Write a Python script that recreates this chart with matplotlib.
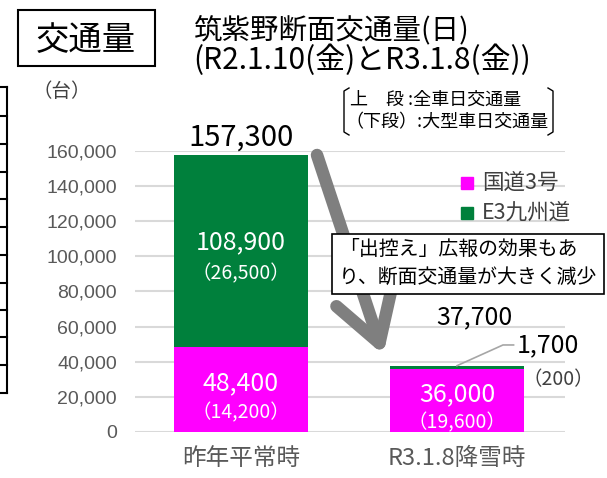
import matplotlib.pyplot as plt
from matplotlib.patches import Rectangle

plt.rcParams['font.family'] = ['Noto Sans CJK JP', 'DejaVu Sans']

categories = ["昨年平常時", "R3.1.8降雪時"]
route3 = [48400, 36000]
route3_large = [14200, 19600]
e3 = [108900, 1700]
e3_large = [26500, 200]
totals = [157300, 37700]
yticks = [0, 20000, 40000, 60000, 80000, 100000, 120000, 140000, 160000]

W, H = 607, 478
fig = plt.figure(figsize=(W / 100, H / 100), dpi=100)


def fx(px):
    return px / W


def fy(py):
    return 1 - py / H


ax = fig.add_axes([fx(135), fy(432), fx(565) - fx(135), fy(150.7) - fy(432)])
x = [0, 1]
magenta = "#FF00FF"
green = "#00803C"
ax.bar(x, route3, width=0.62, color=magenta, zorder=3)
ax.bar(x, e3, width=0.62, bottom=route3, color=green, zorder=3)
ax.set_xlim(-0.49, 1.5)
ax.set_ylim(0, 160000)
ax.set_yticks(yticks)
ax.set_yticklabels([f"{v:,}" for v in yticks], fontsize=14, color="#595959",
                   family=["Liberation Sans"])
ax.set_xticks(x)
ax.set_xticklabels(categories, fontsize=17, color="#595959")
ax.tick_params(length=0)
ax.tick_params(axis="y", pad=13)
ax.tick_params(axis="x", pad=11)
ax.grid(axis="y", color="#D9D9D9", linewidth=1.5, zorder=0)
for s in ax.spines.values():
    s.set_visible(False)

# segment labels
for i in range(2):
    ax.text(x[i], route3[i] / 2 + 3500, f"{route3[i]:,}", ha="center", va="center",
            color="white", fontsize=18, zorder=4)
    ax.text(x[i], route3[i] / 2 - 13000, f"（{route3_large[i]:,}）", ha="center",
            va="center", color="white", fontsize=14, zorder=4)
ax.text(x[0], route3[0] + e3[0] / 2 + 5000, f"{e3[0]:,}", ha="center", va="center",
        color="white", fontsize=18, zorder=4)
ax.text(x[0], route3[0] + e3[0] / 2 - 13000, f"（{e3_large[0]:,}）", ha="center",
        va="center", color="white", fontsize=14, zorder=4)
ax.text(x[0], totals[0] + 1800, f"{totals[0]:,}", ha="center", va="bottom",
        fontsize=21, color="black")
ax.text(1.08, totals[1] + 20000, f"{totals[1]:,}", ha="center", va="bottom",
        fontsize=18, color="black")
# small green segment label with leader
ax.text(1.42, 49500, f"{e3[1]:,}", ha="center", va="center", fontsize=18,
        clip_on=False)
ax.plot([x[1], 1.213, 1.262], [totals[1], 49500, 49500], color="#A6A6A6",
        lw=1.2, clip_on=False, zorder=4)
ax.text(1.47, 29500, f"（{e3_large[1]:,}）", ha="center", va="center",
        fontsize=14, color="#404040", clip_on=False)

# legend
fig.patches.append(Rectangle((fx(461), fy(189)), fx(12), fy(177) - fy(189),
                             transform=fig.transFigure, color=magenta))
fig.patches.append(Rectangle((fx(461), fy(219)), fx(12), fy(207) - fy(219),
                             transform=fig.transFigure, color=green))
fig.text(fx(482), fy(183), "国道3号", fontsize=15.5, va="center", color="#404040")
fig.text(fx(482), fy(213), "E3九州道", fontsize=15.5, va="center", color="#404040")

# overlay in pixel coordinates
ov = fig.add_axes([0, 0, 1, 1], facecolor="none")
ov.set_axis_off()
ov.set_xlim(0, W)
ov.set_ylim(H, 0)
ov.annotate("", xy=(385, 360), xytext=(317, 155),
            arrowprops=dict(arrowstyle="->,head_length=1.75,head_width=1.05",
                            mutation_scale=20, color="#7F7F7F", lw=9,
                            capstyle="round", joinstyle="round",
                            shrinkA=0, shrinkB=4))

# title box
ov.add_patch(Rectangle((18, 10), 137, 56, fill=False, edgecolor="black", lw=1.5))
ov.text(86, 40, "交通量", fontsize=24, ha="center", va="center")
ov.text(193, 30, "筑紫野断面交通量(日)", fontsize=20.5, va="center")
ov.text(193, 60, "(R2.1.10(金)とR3.1.8(金))", fontsize=21.5, va="center")
ov.text(33, 91, "（台）", fontsize=14, va="center", color="#404040")

# bracket note
for bx, d in [(344, 1), (553, -1)]:
    ov.plot([bx + 5 * d, bx, bx, bx + 5 * d], [88, 91, 132, 135],
            color="black", lw=1)
ov.text(350, 100, "上\u3000段 :全車日交通量", fontsize=13, va="center")
ov.text(345, 122, "（下段）:大型車日交通量", fontsize=13, va="center")

# callout box
ov.add_patch(Rectangle((332, 234), 272, 60, facecolor="white",
                       edgecolor="black", lw=1.2, zorder=5))
ov.text(339, 249, "「出控え」広報の効果もあ", fontsize=14.3, va="center",
        zorder=6)
ov.text(339, 277, "り、断面交通量が大きく減少", fontsize=14.3, va="center",
        zorder=6)

# left table edge
for py in [87, 116, 144, 172, 199, 227, 255, 283, 310, 337, 365, 393]:
    ov.plot([0, 7], [py, py], color="black", lw=1.5)
ov.plot([7, 7], [87, 393], color="black", lw=1.5)

fig.savefig("out.png", dpi=100)
